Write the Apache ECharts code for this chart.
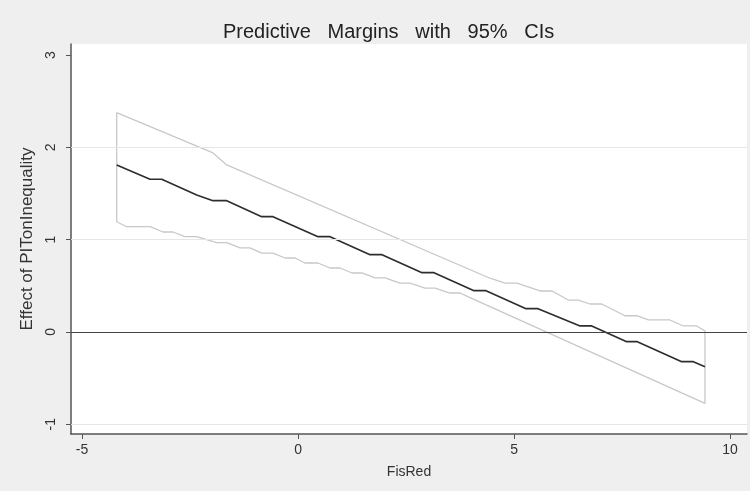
<!DOCTYPE html>
<html>
<head>
<meta charset="utf-8">
<script src="https://cdn.jsdelivr.net/npm/echarts@6/dist/echarts.min.js"></script>
<style>
html,body{margin:0;padding:0;background:#efefef;}
#chart{width:750px;height:491px;}
</style>
</head>
<body>
<div id="chart"></div>
<script>
// Tick labels
var xTicks = [-5, 0, 5, 10];
var yTicks = [-1, 0, 1, 2, 3];
var yGridLines = [-1, 1, 2];

// Predictive margin (FisRed, effect)
var marginPts = [
  [-4.197, 1.809], [-3.426, 1.654], [-3.155, 1.654], [-2.345, 1.484],
  [-1.968, 1.422], [-1.650, 1.422], [-0.840, 1.249], [-0.579, 1.249],
  [0.463, 1.032], [0.741, 1.032], [1.667, 0.837], [1.944, 0.837],
  [2.870, 0.642], [3.148, 0.642], [4.074, 0.447], [4.352, 0.447],
  [5.278, 0.252], [5.556, 0.252], [6.528, 0.065], [6.799, 0.065],
  [7.609, -0.105], [7.854, -0.105], [8.882, -0.322], [9.150, -0.322],
  [9.421, -0.376]
];

// Upper 95% CI
var upperPts = [
  [-4.197, 2.375], [-1.968, 1.939], [-1.650, 1.809], [4.444, 0.582],
  [4.792, 0.530], [5.069, 0.530], [5.602, 0.444], [5.880, 0.444],
  [6.257, 0.346], [6.488, 0.346], [6.759, 0.303], [7.030, 0.303],
  [7.569, 0.176], [7.840, 0.176], [8.109, 0.130], [8.611, 0.130],
  [8.919, 0.065], [9.229, 0.065], [9.421, 0.011]
];

// Lower 95% CI
var lowerPts = [
  [-4.197, 1.194], [-3.965, 1.140], [-3.426, 1.140], [-3.125, 1.083],
  [-2.894, 1.083], [-2.616, 1.032], [-2.345, 1.032], [-1.882, 0.967],
  [-1.650, 0.967], [-1.343, 0.910], [-1.111, 0.910], [-0.840, 0.855],
  [-0.579, 0.855], [-0.301, 0.801], [-0.069, 0.801], [0.162, 0.747],
  [0.463, 0.747], [0.741, 0.693], [0.972, 0.693], [1.250, 0.639],
  [1.481, 0.639], [1.782, 0.585], [2.014, 0.585], [2.361, 0.530],
  [2.593, 0.530], [2.940, 0.476], [3.171, 0.476], [3.519, 0.422],
  [3.750, 0.422], [3.981, 0.373], [9.421, -0.773]
];

var ciBand = upperPts.concat(lowerPts.slice().reverse(), [upperPts[0]]);

var FONT = 'Liberation Sans, Arial, sans-serif';
var chart = echarts.init(document.getElementById('chart'), null, {renderer: 'canvas'});
chart.setOption({
  backgroundColor: '#efefef',
  animation: false,
  title: {
    text: 'Predictive   Margins   with   95%   CIs',
    left: 218,
    top: 17,
    textStyle: {fontFamily: FONT, fontSize: 20, fontWeight: 'normal', color: '#222'}
  },
  grid: {
    left: 71, right: 3, top: 44, bottom: 57,
    show: true, backgroundColor: '#ffffff', borderWidth: 0
  },
  xAxis: {
    type: 'value',
    min: -5.255, max: 10.393,
    name: 'FisRed',
    nameLocation: 'middle',
    nameGap: 31,
    nameTextStyle: {fontFamily: FONT, fontSize: 14, color: '#333'},
    axisLine: {show: true, onZero: false, lineStyle: {color: '#555', width: 1.5}},
    axisTick: {show: true, length: 5, customValues: xTicks, lineStyle: {color: '#555'}},
    axisLabel: {customValues: xTicks, fontFamily: FONT, fontSize: 14, color: '#333', margin: 9},
    splitLine: {show: false}
  },
  yAxis: {
    type: 'value',
    min: -1.105, max: 3.119,
    name: 'Effect of PITonInequality',
    nameLocation: 'middle',
    nameGap: 31,
    nameTextStyle: {fontFamily: FONT, fontSize: 17, color: '#333'},
    axisLine: {show: true, onZero: false, lineStyle: {color: '#555', width: 1.5}},
    axisTick: {show: true, length: 5, customValues: yTicks, lineStyle: {color: '#555'}},
    axisLabel: {customValues: yTicks, rotate: 90, fontFamily: FONT, fontSize: 14, color: '#333', margin: 13},
    splitLine: {show: false}
  },
  series: [
    {
      type: 'line',
      data: [],
      silent: true,
      markLine: {
        symbol: 'none', silent: true, label: {show: false},
        lineStyle: {color: '#e6e6e6', width: 1, type: 'solid'},
        data: yGridLines.map(function (v) { return {yAxis: v}; })
      }
    },
    {
      type: 'line',
      data: ciBand,
      showSymbol: false,
      symbol: 'none',
      lineStyle: {color: '#c8c8c8', width: 1.3},
      z: 3
    },
    {
      type: 'line',
      data: marginPts,
      showSymbol: false,
      symbol: 'none',
      lineStyle: {color: '#2e2e2e', width: 1.7},
      z: 4,
      markLine: {
        symbol: 'none', silent: true, label: {show: false},
        lineStyle: {color: '#444', width: 1.2, type: 'solid'},
        data: [{yAxis: 0}]
      }
    }
  ]
});
</script>
</body>
</html>
